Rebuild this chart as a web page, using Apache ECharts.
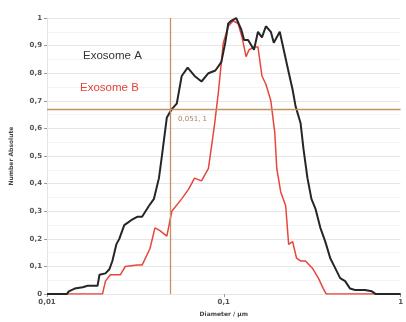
<!DOCTYPE html>
<html><head><meta charset="utf-8">
<script src="https://cdn.jsdelivr.net/npm/echarts@6/dist/echarts.min.js"></script>
<style>html,body{margin:0;padding:0;background:#fff}#c{width:406px;height:322px}</style>
</head><body><div id="c"></div>
<script>
// Exosome A (diameter in µm, normalized number)
var diamA = [0.01,0.01294,0.01328,0.01435,0.01591,0.01697,0.01931,0.01981,0.02141,0.02254,0.02343,0.02467,0.02564,0.02735,0.02880,0.03032,0.03235,0.03451,0.03776,0.04027,0.04297,0.04466,0.04764,0.05082,0.05420,0.05781,0.06246,0.06834,0.07480,0.08189,0.08965,0.09683,0.1019,0.1060,0.1102,0.1175,0.1253,0.1303,0.1372,0.1482,0.1561,0.1644,0.1731,0.1846,0.1918,0.2073,0.2183,0.2298,0.2451,0.2548,0.2718,0.2825,0.2974,0.3132,0.3298,0.3518,0.3752,0.4002,0.4269,0.4553,0.4857,0.5181,0.5526,0.6286,0.6879,0.7243,1.0];
var numA  = [0,0,0.01,0.02,0.025,0.03,0.03,0.07,0.075,0.09,0.12,0.18,0.2,0.25,0.26,0.27,0.28,0.28,0.32,0.345,0.42,0.5,0.64,0.67,0.69,0.79,0.82,0.79,0.77,0.80,0.81,0.84,0.91,0.98,0.99,1.0,0.96,0.92,0.92,0.885,0.95,0.93,0.97,0.95,0.91,0.95,0.885,0.82,0.74,0.68,0.62,0.525,0.42,0.345,0.31,0.24,0.19,0.13,0.094,0.058,0.047,0.02,0.015,0.015,0.01,0,0];
// Exosome B
var diamB = [0.01,0.02060,0.02141,0.02283,0.02597,0.02771,0.03235,0.03451,0.03825,0.04079,0.04353,0.04764,0.05082,0.05781,0.06327,0.06834,0.07480,0.08189,0.08849,0.09316,0.09936,0.1060,0.1131,0.1205,0.1269,0.1337,0.1390,0.1482,0.1561,0.1644,0.1731,0.1846,0.1943,0.1994,0.2099,0.2239,0.2328,0.2451,0.2581,0.2718,0.2898,0.3172,0.3428,0.3656,0.3799,1.0];
var numB  = [0,0,0.047,0.07,0.07,0.10,0.105,0.105,0.165,0.24,0.23,0.21,0.30,0.345,0.38,0.42,0.41,0.455,0.61,0.73,0.91,0.97,0.99,0.98,0.93,0.86,0.885,0.895,0.895,0.79,0.76,0.70,0.585,0.455,0.37,0.32,0.18,0.19,0.13,0.12,0.12,0.094,0.058,0.02,0,0];
var seriesNames = ['Exosome A','Exosome B'];
var cursorX = 0.051;
var cursorY = 0.67;
var cursorLabel = '0,051, 1';

function zip(x,y){return x.map(function(v,i){return [v,y[i]];});}
function fmt(v){return String(+v.toFixed(2)).replace('.',',');}

var chart = echarts.init(document.getElementById('c'));
chart.setOption({
  animation:false,
  grid:{left:44,right:5,top:18,bottom:26},
  xAxis:{type:'log',logBase:10,min:0.01,max:1,
    name:'Diameter / µm',nameLocation:'middle',nameGap:14,
    nameTextStyle:{fontFamily:'DejaVu Sans',fontSize:6,color:'#444',fontWeight:'bold'},
    axisLine:{show:false},
    axisTick:{show:true,length:3,inside:false,lineStyle:{color:'#999'}},
    axisLabel:{fontFamily:'DejaVu Sans',fontSize:7,color:'#555',fontWeight:'bold',margin:5,formatter:function(v){return fmt(v);}},
    splitLine:{show:false},minorTick:{show:false}},
  yAxis:{type:'value',min:0,max:1,interval:0.1,
    name:'Number Absolute',nameLocation:'middle',nameGap:33,
    nameTextStyle:{fontFamily:'DejaVu Sans',fontSize:6,color:'#444',fontWeight:'bold'},
    axisLine:{show:true,lineStyle:{color:'#e4e4e4'}},
    axisTick:{show:true,length:3,lineStyle:{color:'#999'}},
    axisLabel:{fontFamily:'DejaVu Sans',fontSize:7,color:'#555',fontWeight:'bold',margin:5,
      formatter:function(v){return fmt(v);}},
    splitLine:{show:true,lineStyle:{color:'#e6e6e6',width:1}},
    minorSplitLine:{show:true,lineStyle:{color:'#f3f3f3'}},minorTick:{show:false,splitNumber:2}},
  graphic:[
    {type:'text',left:83,top:50,z:100,style:{text:seriesNames[0],fontFamily:'Liberation Sans',fontSize:11.5,fill:'#333'}},
    {type:'text',left:80,top:82,z:100,style:{text:seriesNames[1],fontFamily:'Liberation Sans',fontSize:11.5,fill:'#e0443a'}}
  ],
  series:[
    {name:seriesNames[0],type:'line',data:zip(diamA,numA),showSymbol:false,
      lineStyle:{color:'#262626',width:2},z:3},
    {name:seriesNames[1],type:'line',data:zip(diamB,numB),showSymbol:false,
      lineStyle:{color:'#e8453c',width:1.5},z:2,
      markLine:{silent:true,symbol:'none',lineStyle:{color:'#c8905e',width:1.3,type:'solid'},
        label:{show:false},
        data:[{xAxis:cursorX},{yAxis:cursorY}]},
      markPoint:{symbol:'circle',symbolSize:0,data:[{coord:[cursorX,cursorY],
        label:{show:true,position:'right',distance:6,offset:[0,10],formatter:cursorLabel,
          fontFamily:'DejaVu Sans',fontSize:7,color:'#a8805a'}}]}}
  ]
});
</script></body></html>
